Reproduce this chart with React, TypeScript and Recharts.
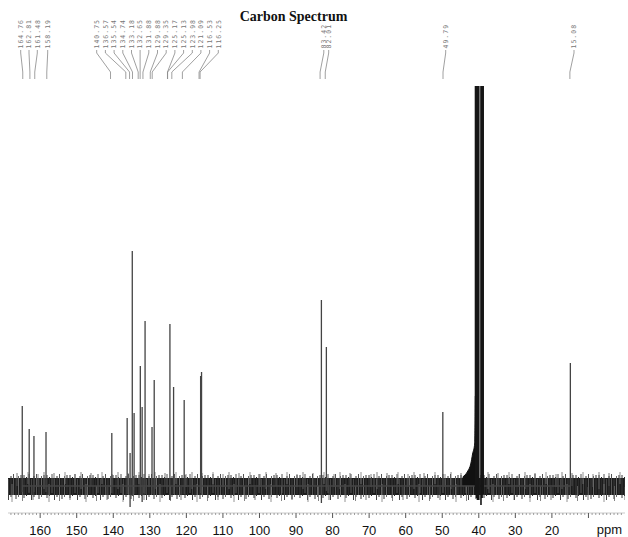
import React from 'react';
import { ComposedChart, Line, Area, XAxis, YAxis, ReferenceArea, ReferenceLine } from 'recharts';

// peak positions (ppm), heights above baseline (a.u.)
const peakPpm = [164.9, 163.0, 161.7, 158.4, 140.4, 136.2, 135.4, 134.8, 134.3, 132.6, 132.1, 131.3, 129.4, 128.8, 124.5, 123.5, 120.6, 116.1, 115.85, 83.06, 81.7, 49.84, 14.95];
const peakHeight = [80, 57, 50, 54, 53, 68, 33, 235, 73, 120, 79, 165, 59, 106, 162, 99, 86, 110, 114, 186, 139, 74, 123];
const peakDip = [-6, -6, -6, -6, -7, -8, -21, -10, -8, -9, -16, -8, -8, -9, -14, -8, -8, -7, -9, -17, -5, -7, -8];

// solvent (DMSO) multiplet, runs off the top of the plot
const dmsoPpm = [40.9, 40.6, 40.3, 40.0, 39.4, 39.1, 38.8];
const dmsoHeight = [900, 900, 900, 900, 900, 900, 900];
const dmsoDip = [-9, -12, -14, -14, -19, -12, -8];
const skirtPpm = [44.4, 43.0, 42.2, 41.7, 41.1, 40.95];
const skirtHeight = [9, 15, 22, 32, 43, 90];

// printed peak labels
const labelText = ['164.76', '162.81', '161.48', '158.19', '140.75', '136.57', '135.54', '134.74', '133.18', '132.65', '131.88', '129.88', '129.35', '125.17', '125.13', '123.98', '121.09', '116.53', '116.25', '83.42', '82.01', '49.79', '15.08'];
const tickLabels = [160, 150, 140, 130, 120, 110, 100, 90, 80, 70, 60, 50, 40, 30, 20];

const W = 628;
const H = 537;
const PLOT_LEFT = 8;
const PLOT_RIGHT = 3;
const X_MIN = 0;
const X_MAX = 168.8;
const PLOT_W = W - PLOT_LEFT - PLOT_RIGHT;

// label column positions in pixels
const labelSlotPx = [
  20.7, 29, 37.3, 47.7,
  96.7, 105.4, 114.1, 122.8, 131.5, 140.1, 148.8, 157.5, 166.2, 174.9, 183.6, 192.3, 200.9, 209.6, 218.3,
  323.8, 328.7, 445.7, 574,
];

const pxToPpm = (px: number) => X_MAX - ((px - PLOT_LEFT) * (X_MAX - X_MIN)) / PLOT_W;

const minorTicks: number[] = [];
for (let v = 168; v >= 1; v--) minorTicks.push(v);

const spikeData = peakPpm.flatMap((p, i) => [
  { ppm: p, y: 0 },
  { ppm: p, y: peakHeight[i] },
  { ppm: p, y: peakDip[i] },
  { ppm: p, y: 0 },
]);
const dmsoData = dmsoPpm.flatMap((p, i) => [
  { ppm: p, y: 0 },
  { ppm: p, y: dmsoHeight[i] },
  { ppm: p, y: dmsoDip[i] },
  { ppm: p, y: 0 },
]);
const skirtData = skirtPpm.map((p, i) => ({ ppm: p, y: skirtHeight[i] }));

const AxisTick = (props: any) => {
  const { x, y, payload } = props;
  const v = payload.value;
  const major = v % 10 === 0;
  return (
    <g>
      <line x1={x} x2={x} y1={y} y2={y + (major ? 5 : 2)} stroke={major ? '#555' : '#888'} strokeWidth={major ? 1 : 0.8} />
      {tickLabels.includes(v) && (
        <text x={x} y={y + 22} textAnchor="middle" fontSize={13} fontFamily="'Liberation Sans', Arial, sans-serif" fill="#111">
          {v}
        </text>
      )}
    </g>
  );
};

const labelLines = labelText.flatMap((t, i) => {
  const slot = pxToPpm(labelSlotPx[i]);
  const end = parseFloat(t);
  const common = { ifOverflow: 'visible' as const, stroke: '#888', strokeWidth: 0.8 };
  return [
    <ReferenceLine
      key={`a${i}`}
      {...common}
      segment={[{ x: slot, y: 436 }, { x: slot, y: 433 }]}
      label={{
        content: (p: any) => {
          const vb = p.viewBox || {};
          return (
            <text
              transform={`translate(${vb.x + 2.2},${vb.y - 1.5}) rotate(-90)`}
              fontSize={6.5}
              letterSpacing={1}
              fontFamily="'DejaVu Sans Mono', monospace"
              fill="#777"
            >
              {t}
            </text>
          );
        },
      }}
    />,
    <ReferenceLine key={`b${i}`} {...common} segment={[{ x: slot, y: 433 }, { x: end, y: 414 }]} />,
    <ReferenceLine key={`c${i}`} {...common} segment={[{ x: end, y: 414 }, { x: end, y: 407 }]} />,
  ];
});

const NoisePattern = () => (
  <defs>
    <pattern id="noiseA" patternUnits="userSpaceOnUse" x={0} y={472} width={23} height={30}>
      <rect x={0} y={6} width={23} height={17} fill="#1c1c1c" />
      <line x1={1} x2={1} y1={3} y2={26} stroke="#3a3a3a" />
      <line x1={3.5} x2={3.5} y1={5} y2={24} stroke="#2a2a2a" />
      <line x1={6} x2={6} y1={2} y2={21} stroke="#555" />
      <line x1={8.5} x2={8.5} y1={7} y2={28} stroke="#444" />
      <line x1={11} x2={11} y1={4} y2={25} stroke="#333" />
      <line x1={13.5} x2={13.5} y1={2} y2={23} stroke="#555" />
      <line x1={16} x2={16} y1={6} y2={27} stroke="#3a3a3a" />
      <line x1={18.5} x2={18.5} y1={4} y2={25} stroke="#666" />
      <line x1={21} x2={21} y1={3} y2={22} stroke="#333" />
    </pattern>
    <pattern id="noiseB" patternUnits="userSpaceOnUse" x={5} y={472} width={37} height={30}>
      <line x1={2} x2={2} y1={0} y2={17} stroke="#666" strokeWidth={0.8} />
      <line x1={7} x2={7} y1={12} y2={30} stroke="#777" strokeWidth={0.8} />
      <line x1={12} x2={12} y1={1} y2={14} stroke="#555" strokeWidth={0.8} />
      <line x1={17.5} x2={17.5} y1={14} y2={29} stroke="#666" strokeWidth={0.8} />
      <line x1={23} x2={23} y1={0} y2={12} stroke="#777" strokeWidth={0.8} />
      <line x1={28} x2={28} y1={15} y2={28} stroke="#555" strokeWidth={0.8} />
      <line x1={33} x2={33} y1={2} y2={15} stroke="#666" strokeWidth={0.8} />
    </pattern>
  </defs>
);

export default function App() {
  return (
    <div style={{ position: 'absolute', left: 0, top: 0, width: W, height: H, background: '#fff' }}>
      <div
        style={{
          position: 'absolute',
          left: 0,
          top: 9,
          width: 587,
          textAlign: 'center',
          fontFamily: "'Liberation Serif', 'Times New Roman', serif",
          fontWeight: 'bold',
          fontSize: 14,
          lineHeight: '16px',
          color: '#111',
        }}
      >
        Carbon Spectrum
      </div>
      <ComposedChart width={W} height={H} margin={{ top: 86, right: PLOT_RIGHT, bottom: 0, left: PLOT_LEFT }}>
        <NoisePattern />
        <XAxis
          dataKey="ppm"
          type="number"
          domain={[X_MIN, X_MAX]}
          reversed
          allowDataOverflow
          ticks={minorTicks}
          interval={0}
          height={24}
          tickSize={0}
          tickMargin={0}
          tickLine={false}
          axisLine={{ stroke: '#aaa', strokeWidth: 0.6 }}
          tick={<AxisTick />}
          label={{
            value: 'ppm',
            position: 'insideBottomRight',
            offset: 3,
            fontSize: 13,
            fontFamily: "'Liberation Sans', Arial, sans-serif",
            fill: '#111',
          }}
        />
        <YAxis type="number" domain={[-27, 400]} allowDataOverflow hide />
        <ReferenceArea x1={X_MIN} x2={X_MAX} y1={-16} y2={14} fill="url(#noiseA)" fillOpacity={1} stroke="none" />
        <ReferenceArea x1={X_MIN} x2={X_MAX} y1={-16} y2={14} fill="url(#noiseB)" fillOpacity={1} stroke="none" />
        <Area
          data={skirtData}
          dataKey="y"
          type="monotone"
          stroke="#111"
          fill="#111"
          fillOpacity={1}
          isAnimationActive={false}
        />
        <Line data={spikeData} dataKey="y" type="linear" stroke="#444" strokeWidth={1.3} dot={false} isAnimationActive={false} />
        <Line data={dmsoData} dataKey="y" type="linear" stroke="#151515" strokeWidth={1.6} dot={false} isAnimationActive={false} />
        {labelLines}
      </ComposedChart>
    </div>
  );
}
